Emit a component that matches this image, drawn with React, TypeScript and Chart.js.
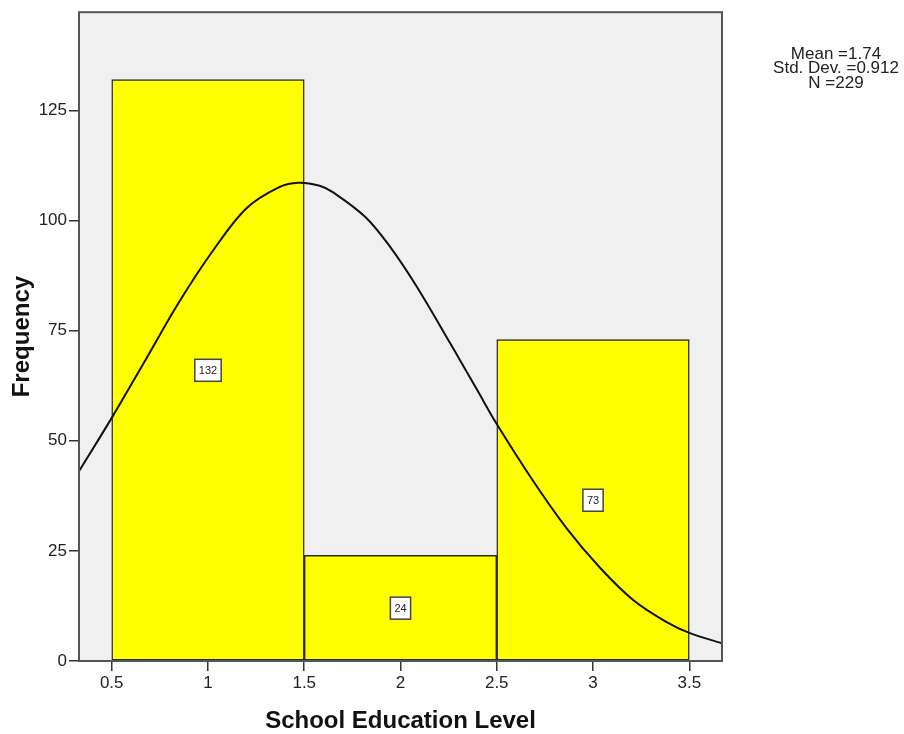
import React, { useEffect, useRef } from 'react';
import { Chart, registerables } from 'chart.js';

Chart.register(...registerables);

// ---- data ----
const binCenters = [1, 2, 3];
const frequencies = [132, 24, 73];

const curveX = [0.33, 0.5, 0.68, 0.85, 1.02, 1.2, 1.37, 1.47, 1.58, 1.65, 1.82, 1.95, 2.08, 2.26, 2.4, 2.5, 2.69, 2.86, 3.04, 3.21, 3.38, 3.5, 3.67];
const curveY = [43.1, 55.2, 68.7, 81.5, 92.8, 102.8, 107.6, 108.6, 107.9, 106.4, 100.7, 93.8, 85.3, 72.0, 61.4, 53.8, 40.8, 30.3, 21.0, 13.8, 8.9, 6.4, 4.0];

const xTicks = [0.5, 1, 1.5, 2, 2.5, 3, 3.5];
const yTicks = [0, 25, 50, 75, 100, 125];
const xRange = [0.33, 3.67];
const yRange = [0, 147.3];

const statsLines = ['Mean =1.74', 'Std. Dev. =0.912', 'N =229'];
const xTitle = 'School Education Level';
const yTitle = 'Frequency';

const FONT = "'Liberation Sans', Arial, sans-serif";

export default function App() {
  const canvasRef = useRef<HTMLCanvasElement | null>(null);

  useEffect(() => {
    const canvas = canvasRef.current;
    if (!canvas) return;

    const bgPlugin = {
      id: 'plotBg',
      beforeDraw(chart: any) {
        const { ctx, chartArea } = chart;
        const { left, top, right, bottom } = chartArea;
        ctx.save();
        ctx.fillStyle = '#f0f0f0';
        ctx.fillRect(left, top, right - left, bottom - top);
        ctx.restore();
      },
    };

    const labelPlugin = {
      id: 'valueLabels',
      afterDatasetsDraw(chart: any) {
        const { ctx } = chart;
        const meta = chart.getDatasetMeta(1);
        const yScale = chart.scales.y;
        ctx.save();
        ctx.font = `11px ${FONT}`;
        ctx.textAlign = 'center';
        ctx.textBaseline = 'middle';
        meta.data.forEach((bar: any, i: number) => {
          const v = frequencies[i];
          const txt = String(v);
          const cx = bar.x;
          const cy = yScale.getPixelForValue(v / 2);
          const w = ctx.measureText(txt).width + 8;
          const h = 22;
          ctx.fillStyle = '#ffffff';
          ctx.fillRect(cx - w / 2, cy - h / 2, w, h);
          ctx.strokeStyle = '#444';
          ctx.lineWidth = 1.5;
          ctx.strokeRect(cx - w / 2, cy - h / 2, w, h);
          ctx.fillStyle = '#222';
          ctx.fillText(txt, cx, cy + 0.5);
        });
        ctx.restore();
      },
    };

    const framePlugin = {
      id: 'frameAndStats',
      afterDraw(chart: any) {
        const { ctx, chartArea } = chart;
        const { left, top, right, bottom } = chartArea;
        ctx.save();
        ctx.strokeStyle = '#555';
        ctx.lineWidth = 2;
        ctx.strokeRect(left, top, right - left, bottom - top);
        ctx.font = `17px ${FONT}`;
        ctx.fillStyle = '#222';
        ctx.textAlign = 'center';
        ctx.textBaseline = 'alphabetic';
        const cx = right + 114;
        statsLines.forEach((line, i) => {
          ctx.fillText(line, cx, top + 46.5 + i * 14.5);
        });
        ctx.restore();
      },
    };

    const gridOpts = {
      display: true,
      drawOnChartArea: false,
      drawTicks: true,
      tickLength: 10,
      color: '#333',
      lineWidth: 1.5,
      offset: false,
    };

    const chart = new Chart(canvas, {
      type: 'bar',
      data: {
        datasets: [
          {
            type: 'line',
            label: 'Normal',
            data: curveX.map((x, i) => ({ x, y: curveY[i] })),
            xAxisID: 'x',
            yAxisID: 'y',
            borderColor: '#111',
            borderWidth: 2,
            pointRadius: 0,
            fill: false,
            tension: 0.35,
            order: 0,
          } as any,
          {
            type: 'bar',
            label: 'Frequency',
            data: binCenters.map((x, i) => ({ x, y: frequencies[i] })),
            xAxisID: 'xb',
            yAxisID: 'y',
            backgroundColor: '#ffff00',
            borderColor: '#2a2a2a',
            borderWidth: 1.5,
            borderSkipped: false,
            grouped: false,
            barPercentage: 1,
            categoryPercentage: 1,
            order: 1,
          } as any,
        ],
      },
      options: {
        animation: false,
        responsive: false,
        maintainAspectRatio: false,
        layout: { padding: { left: 0, top: 9, right: 182, bottom: 0 } },
        plugins: {
          legend: { display: false },
          tooltip: { enabled: false },
        },
        scales: {
          x: {
            type: 'linear',
            position: 'bottom',
            offset: false,
            min: xRange[0],
            max: xRange[1],
            afterBuildTicks: (axis: any) => {
              axis.ticks = xTicks.map((v) => ({ value: v }));
            },
            afterFit: (scale: any) => {
              scale.height = 73;
            },
            ticks: {
              color: '#222',
              font: { family: FONT, size: 17 },
              padding: 2,
              maxRotation: 0,
              autoSkip: false,
              callback: (v: any) => String(v),
            },
            grid: gridOpts,
            border: { display: false },
            title: {
              display: true,
              text: xTitle,
              color: '#111',
              font: { family: FONT, size: 24, weight: 'bold' },
              padding: { top: 0, bottom: -2 },
            },
          },
          xb: {
            type: 'linear',
            axis: 'x',
            position: 'bottom',
            display: false,
            offset: false,
            grid: { offset: false },
            min: xRange[0],
            max: xRange[1],
            afterBuildTicks: (axis: any) => {
              axis.ticks = [];
            },
          },
          y: {
            type: 'linear',
            position: 'left',
            min: yRange[0],
            max: yRange[1],
            afterBuildTicks: (axis: any) => {
              axis.ticks = yTicks.map((v) => ({ value: v }));
            },
            afterFit: (scale: any) => {
              scale.width = 79;
            },
            ticks: {
              color: '#222',
              font: { family: FONT, size: 17 },
              padding: 2,
              autoSkip: false,
              callback: (v: any) => String(v),
            },
            grid: gridOpts,
            border: { display: false },
            title: {
              display: true,
              text: yTitle,
              color: '#111',
              font: { family: FONT, size: 24, weight: 'bold' },
              padding: { top: 8, bottom: 0 },
            },
          },
        } as any,
      },
      plugins: [bgPlugin, labelPlugin, framePlugin],
    });

    return () => {
      chart.destroy();
    };
  }, []);

  return (
    <div style={{ position: 'absolute', left: 0, top: 0, width: 904, height: 734, background: '#fff' }}>
      <canvas ref={canvasRef} width={904} height={734} style={{ display: 'block', width: 904, height: 734 }} />
    </div>
  );
}
